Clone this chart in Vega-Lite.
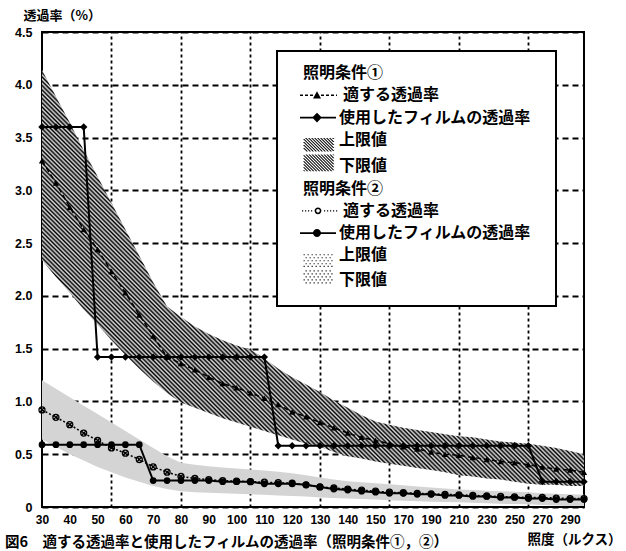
{
  "$schema": "https://vega.github.io/schema/vega-lite/v6.json",
  "width": 542,
  "height": 475,
  "autosize": "none",
  "padding": {"left": 42, "top": 32, "right": 42, "bottom": 44},
  "background": "white",
  "config": {
    "view": {"stroke": "black", "strokeWidth": 2},
    "axis": {
      "domain": false, "ticks": false, "tickSize": 0,
      "labelFont": "Liberation Sans", "labelFontSize": 12, "labelFontWeight": "bold", "labelColor": "black",
      "titleFont": "Noto Sans CJK JP", "titleFontWeight": "bold", "titleColor": "black",
      "gridColor": "black", "gridOpacity": 1, "gridWidth": 1.8, "zindex": 1
    },
    "legend": {"strokeWidth": 2}
  },
  "title": {
    "text": "図6　適する透過率と使用したフィルムの透過率（照明条件①，②）",
    "orient": "bottom", "anchor": "start", "frame": "group",
    "dx": -37, "offset": -10,
    "font": "Noto Sans CJK JP", "fontSize": 14.5, "fontWeight": "bold", "color": "black"
  },
  "datasets": {
    "d": [
      {"lux":30,"a1":3.28,"b1":3.6,"u1":4.14,"l1":2.34,"a2":0.92,"b2":0.59,"u2":1.2,"l2":0.64},
      {"lux":35,"a1":3.07,"b1":3.6,"u1":3.89,"l1":2.18,"a2":0.85,"b2":0.59,"u2":1.12,"l2":0.57},
      {"lux":40,"a1":2.84,"b1":3.6,"u1":3.64,"l1":2.03,"a2":0.78,"b2":0.59,"u2":1.04,"l2":0.5},
      {"lux":45,"a1":2.63,"b1":3.6,"u1":3.38,"l1":1.87,"a2":0.7,"b2":0.59,"u2":0.96,"l2":0.44},
      {"lux":50,"a1":2.44,"b1":1.42,"u1":3.13,"l1":1.73,"a2":0.63,"b2":0.59,"u2":0.88,"l2":0.38},
      {"lux":55,"a1":2.23,"b1":1.42,"u1":2.88,"l1":1.58,"a2":0.56,"b2":0.59,"u2":0.8,"l2":0.33},
      {"lux":60,"a1":2.03,"b1":1.42,"u1":2.63,"l1":1.44,"a2":0.51,"b2":0.59,"u2":0.72,"l2":0.28},
      {"lux":65,"a1":1.82,"b1":1.42,"u1":2.38,"l1":1.31,"a2":0.45,"b2":0.59,"u2":0.64,"l2":0.24},
      {"lux":70,"a1":1.62,"b1":1.42,"u1":2.13,"l1":1.19,"a2":0.38,"b2":0.25,"u2":0.56,"l2":0.2},
      {"lux":75,"a1":1.42,"b1":1.42,"u1":1.9,"l1":1.08,"a2":0.33,"b2":0.25,"u2":0.48,"l2":0.17},
      {"lux":80,"a1":1.36,"b1":1.42,"u1":1.8,"l1":0.99,"a2":0.29,"b2":0.25,"u2":0.42,"l2":0.15},
      {"lux":85,"a1":1.3,"b1":1.42,"u1":1.71,"l1":0.94,"a2":0.27,"b2":0.25,"u2":0.4,"l2":0.14},
      {"lux":90,"a1":1.23,"b1":1.42,"u1":1.64,"l1":0.89,"a2":0.26,"b2":0.25,"u2":0.385,"l2":0.135},
      {"lux":95,"a1":1.17,"b1":1.42,"u1":1.58,"l1":0.84,"a2":0.25,"b2":0.24,"u2":0.375,"l2":0.13},
      {"lux":100,"a1":1.13,"b1":1.42,"u1":1.53,"l1":0.8,"a2":0.245,"b2":0.24,"u2":0.365,"l2":0.125},
      {"lux":105,"a1":1.08,"b1":1.42,"u1":1.49,"l1":0.76,"a2":0.24,"b2":0.24,"u2":0.355,"l2":0.12},
      {"lux":110,"a1":1.03,"b1":1.42,"u1":1.41,"l1":0.72,"a2":0.235,"b2":0.22,"u2":0.345,"l2":0.115},
      {"lux":115,"a1":0.97,"b1":0.58,"u1":1.31,"l1":0.68,"a2":0.23,"b2":0.22,"u2":0.335,"l2":0.11},
      {"lux":120,"a1":0.9,"b1":0.58,"u1":1.23,"l1":0.64,"a2":0.225,"b2":0.22,"u2":0.32,"l2":0.105},
      {"lux":125,"a1":0.855,"b1":0.58,"u1":1.16,"l1":0.6,"a2":0.21,"b2":0.21,"u2":0.3,"l2":0.1},
      {"lux":130,"a1":0.8,"b1":0.58,"u1":1.09,"l1":0.57,"a2":0.19,"b2":0.19,"u2":0.28,"l2":0.09},
      {"lux":135,"a1":0.75,"b1":0.58,"u1":1.01,"l1":0.52,"a2":0.18,"b2":0.17,"u2":0.26,"l2":0.085},
      {"lux":140,"a1":0.7,"b1":0.58,"u1":0.94,"l1":0.48,"a2":0.17,"b2":0.16,"u2":0.245,"l2":0.08},
      {"lux":145,"a1":0.66,"b1":0.58,"u1":0.87,"l1":0.46,"a2":0.16,"b2":0.15,"u2":0.235,"l2":0.075},
      {"lux":150,"a1":0.63,"b1":0.58,"u1":0.81,"l1":0.43,"a2":0.15,"b2":0.14,"u2":0.225,"l2":0.07},
      {"lux":160,"a1":0.6,"b1":0.58,"u1":0.78,"l1":0.41,"a2":0.14,"b2":0.13,"u2":0.215,"l2":0.065},
      {"lux":170,"a1":0.57,"b1":0.58,"u1":0.75,"l1":0.39,"a2":0.135,"b2":0.13,"u2":0.205,"l2":0.06},
      {"lux":180,"a1":0.55,"b1":0.58,"u1":0.73,"l1":0.37,"a2":0.13,"b2":0.12,"u2":0.195,"l2":0.055},
      {"lux":190,"a1":0.52,"b1":0.58,"u1":0.71,"l1":0.35,"a2":0.125,"b2":0.12,"u2":0.185,"l2":0.05},
      {"lux":200,"a1":0.5,"b1":0.58,"u1":0.69,"l1":0.33,"a2":0.12,"b2":0.11,"u2":0.175,"l2":0.048},
      {"lux":210,"a1":0.49,"b1":0.58,"u1":0.67,"l1":0.3,"a2":0.115,"b2":0.11,"u2":0.165,"l2":0.045},
      {"lux":220,"a1":0.47,"b1":0.58,"u1":0.66,"l1":0.29,"a2":0.11,"b2":0.1,"u2":0.16,"l2":0.04},
      {"lux":230,"a1":0.45,"b1":0.58,"u1":0.64,"l1":0.27,"a2":0.105,"b2":0.1,"u2":0.155,"l2":0.035},
      {"lux":240,"a1":0.43,"b1":0.58,"u1":0.62,"l1":0.26,"a2":0.1,"b2":0.09,"u2":0.15,"l2":0.03},
      {"lux":250,"a1":0.42,"b1":0.58,"u1":0.61,"l1":0.24,"a2":0.095,"b2":0.09,"u2":0.145,"l2":0.028},
      {"lux":260,"a1":0.4,"b1":0.58,"u1":0.6,"l1":0.22,"a2":0.09,"b2":0.08,"u2":0.14,"l2":0.025},
      {"lux":270,"a1":0.38,"b1":0.24,"u1":0.58,"l1":0.21,"a2":0.09,"b2":0.08,"u2":0.13,"l2":0.02},
      {"lux":280,"a1":0.36,"b1":0.24,"u1":0.56,"l1":0.21,"a2":0.085,"b2":0.07,"u2":0.125,"l2":0.015},
      {"lux":290,"a1":0.35,"b1":0.24,"u1":0.53,"l1":0.2,"a2":0.08,"b2":0.07,"u2":0.12,"l2":0.01},
      {"lux":300,"a1":0.33,"b1":0.24,"u1":0.5,"l1":0.2,"a2":0.08,"b2":0.07,"u2":0.115,"l2":0.01}
    ]
  },
  "layer": [
    {
      "data": {"name": "d"},
      "mark": {"type": "area", "opacity": 1,
        "fill": {"gradient": "linear", "x1": 0, "y1": 1, "x2": 1, "y2": 0.2325, "stops": [
          {"offset":0.24,"color":"#000"},{"offset":0.2425,"color":"#ddd"},{"offset":0.245,"color":"#000"},{"offset":0.2475,"color":"#ddd"},
          {"offset":0.25,"color":"#000"},{"offset":0.2525,"color":"#ddd"},{"offset":0.255,"color":"#000"},{"offset":0.2575,"color":"#ddd"},
          {"offset":0.26,"color":"#000"},{"offset":0.2625,"color":"#ddd"},{"offset":0.265,"color":"#000"},{"offset":0.2675,"color":"#ddd"},
          {"offset":0.27,"color":"#000"},{"offset":0.2725,"color":"#ddd"},{"offset":0.275,"color":"#000"},{"offset":0.2775,"color":"#ddd"},
          {"offset":0.28,"color":"#000"},{"offset":0.2825,"color":"#ddd"},{"offset":0.285,"color":"#000"},{"offset":0.2875,"color":"#ddd"},
          {"offset":0.29,"color":"#000"},{"offset":0.2925,"color":"#ddd"},{"offset":0.295,"color":"#000"},{"offset":0.2975,"color":"#ddd"},
          {"offset":0.30,"color":"#000"},{"offset":0.3025,"color":"#ddd"},{"offset":0.305,"color":"#000"},{"offset":0.3075,"color":"#ddd"},
          {"offset":0.31,"color":"#000"},{"offset":0.3125,"color":"#ddd"},{"offset":0.315,"color":"#000"},{"offset":0.3175,"color":"#ddd"},
          {"offset":0.32,"color":"#000"},{"offset":0.3225,"color":"#ddd"},{"offset":0.325,"color":"#000"},{"offset":0.3275,"color":"#ddd"},
          {"offset":0.33,"color":"#000"},{"offset":0.3325,"color":"#ddd"},{"offset":0.335,"color":"#000"},{"offset":0.3375,"color":"#ddd"},
          {"offset":0.34,"color":"#000"},{"offset":0.3425,"color":"#ddd"},{"offset":0.345,"color":"#000"},{"offset":0.3475,"color":"#ddd"},
          {"offset":0.35,"color":"#000"},{"offset":0.3525,"color":"#ddd"},{"offset":0.355,"color":"#000"},{"offset":0.3575,"color":"#ddd"},
          {"offset":0.36,"color":"#000"},{"offset":0.3625,"color":"#ddd"},{"offset":0.365,"color":"#000"},{"offset":0.3675,"color":"#ddd"},
          {"offset":0.37,"color":"#000"},{"offset":0.3725,"color":"#ddd"},{"offset":0.375,"color":"#000"},{"offset":0.3775,"color":"#ddd"},
          {"offset":0.38,"color":"#000"},{"offset":0.3825,"color":"#ddd"},{"offset":0.385,"color":"#000"},{"offset":0.3875,"color":"#ddd"},
          {"offset":0.39,"color":"#000"},{"offset":0.3925,"color":"#ddd"},{"offset":0.395,"color":"#000"},{"offset":0.3975,"color":"#ddd"},
          {"offset":0.40,"color":"#000"},{"offset":0.4025,"color":"#ddd"},{"offset":0.405,"color":"#000"},{"offset":0.4075,"color":"#ddd"},
          {"offset":0.41,"color":"#000"},{"offset":0.4125,"color":"#ddd"},{"offset":0.415,"color":"#000"},{"offset":0.4175,"color":"#ddd"},
          {"offset":0.42,"color":"#000"},{"offset":0.4225,"color":"#ddd"},{"offset":0.425,"color":"#000"},{"offset":0.4275,"color":"#ddd"},
          {"offset":0.43,"color":"#000"},{"offset":0.4325,"color":"#ddd"},{"offset":0.435,"color":"#000"},{"offset":0.4375,"color":"#ddd"},
          {"offset":0.44,"color":"#000"},{"offset":0.4425,"color":"#ddd"},{"offset":0.445,"color":"#000"},{"offset":0.4475,"color":"#ddd"},
          {"offset":0.45,"color":"#000"},{"offset":0.4525,"color":"#ddd"},{"offset":0.455,"color":"#000"},{"offset":0.4575,"color":"#ddd"},
          {"offset":0.46,"color":"#000"},{"offset":0.4625,"color":"#ddd"},{"offset":0.465,"color":"#000"},{"offset":0.4675,"color":"#ddd"},
          {"offset":0.47,"color":"#000"},{"offset":0.4725,"color":"#ddd"},{"offset":0.475,"color":"#000"},{"offset":0.4775,"color":"#ddd"},
          {"offset":0.48,"color":"#000"},{"offset":0.4825,"color":"#ddd"},{"offset":0.485,"color":"#000"},{"offset":0.4875,"color":"#ddd"},
          {"offset":0.49,"color":"#000"},{"offset":0.4925,"color":"#ddd"},{"offset":0.495,"color":"#000"},{"offset":0.4975,"color":"#ddd"},
          {"offset":0.50,"color":"#000"},{"offset":0.5025,"color":"#ddd"},{"offset":0.505,"color":"#000"},{"offset":0.5075,"color":"#ddd"},
          {"offset":0.51,"color":"#000"},{"offset":0.5125,"color":"#ddd"},{"offset":0.515,"color":"#000"},{"offset":0.5175,"color":"#ddd"},
          {"offset":0.52,"color":"#000"},{"offset":0.5225,"color":"#ddd"},{"offset":0.525,"color":"#000"},{"offset":0.5275,"color":"#ddd"},
          {"offset":0.53,"color":"#000"},{"offset":0.5325,"color":"#ddd"},{"offset":0.535,"color":"#000"},{"offset":0.5375,"color":"#ddd"},
          {"offset":0.54,"color":"#000"},{"offset":0.5425,"color":"#ddd"},{"offset":0.545,"color":"#000"},{"offset":0.5475,"color":"#ddd"},
          {"offset":0.55,"color":"#000"},{"offset":0.5525,"color":"#ddd"},{"offset":0.555,"color":"#000"},{"offset":0.5575,"color":"#ddd"},
          {"offset":0.56,"color":"#000"},{"offset":0.5625,"color":"#ddd"},{"offset":0.565,"color":"#000"},{"offset":0.5675,"color":"#ddd"},
          {"offset":0.57,"color":"#000"},{"offset":0.5725,"color":"#ddd"},{"offset":0.575,"color":"#000"},{"offset":0.5775,"color":"#ddd"},
          {"offset":0.58,"color":"#000"},{"offset":0.5825,"color":"#ddd"},{"offset":0.585,"color":"#000"},{"offset":0.5875,"color":"#ddd"},
          {"offset":0.59,"color":"#000"},{"offset":0.5925,"color":"#ddd"},{"offset":0.595,"color":"#000"},{"offset":0.5975,"color":"#ddd"},
          {"offset":0.60,"color":"#000"},{"offset":0.6025,"color":"#ddd"},{"offset":0.605,"color":"#000"},{"offset":0.6075,"color":"#ddd"},
          {"offset":0.61,"color":"#000"},{"offset":0.6125,"color":"#ddd"},{"offset":0.615,"color":"#000"},{"offset":0.6175,"color":"#ddd"},
          {"offset":0.62,"color":"#000"},{"offset":0.6225,"color":"#ddd"},{"offset":0.625,"color":"#000"},{"offset":0.6275,"color":"#ddd"},
          {"offset":0.63,"color":"#000"},{"offset":0.6325,"color":"#ddd"},{"offset":0.635,"color":"#000"},{"offset":0.6375,"color":"#ddd"},
          {"offset":0.64,"color":"#000"},{"offset":0.6425,"color":"#ddd"},{"offset":0.645,"color":"#000"},{"offset":0.6475,"color":"#ddd"},
          {"offset":0.65,"color":"#000"},{"offset":0.6525,"color":"#ddd"},{"offset":0.655,"color":"#000"},{"offset":0.6575,"color":"#ddd"},
          {"offset":0.66,"color":"#000"},{"offset":0.6625,"color":"#ddd"},{"offset":0.665,"color":"#000"},{"offset":0.6675,"color":"#ddd"},
          {"offset":0.67,"color":"#000"},{"offset":0.6725,"color":"#ddd"},{"offset":0.675,"color":"#000"},{"offset":0.6775,"color":"#ddd"},
          {"offset":0.68,"color":"#000"}
        ]}},
      "encoding": {
        "x": {"field": "lux", "type": "ordinal", "scale": {"type": "point", "padding": 0}, "title": "照度（ルクス）",
          "axis": {"orient": "bottom", "values": [30,40,50,60,70,80,90,100,110,120,130,140,150,170,190,210,230,250,270,290],
            "labelAngle": 0, "labelPadding": 7, "labelOverlap": false, "labelFlush": false, "labelBound": false, "grid": false,
            "titleX": 485, "titleY": 32, "titleAlign": "left", "titleBaseline": "middle", "titleFontSize": 13.5}},
        "y": {"field": "u1", "type": "quantitative", "scale": {"domain": [0, 4.5], "nice": false, "zero": true}, "title": "透過率（%）",
          "axis": {"orient": "left", "values": [0,0.5,1,1.5,2,2.5,3,3.5,4,4.5],
            "labelExpr": "datum.value == 0 ? '0' : format(datum.value, '.1f')", "labelPadding": 10, "labelFontSize": 12.5,
            "grid": true, "gridDash": [6,4],
            "titleAngle": 0, "titleAlign": "left", "titleBaseline": "middle", "titleX": -19, "titleY": -17, "titleFontSize": 13}},
        "y2": {"field": "l1"}
      }
    },
    {
      "data": {"name": "d"},
      "mark": {"type": "area", "fill": "#d4d4d4", "opacity": 1},
      "encoding": {
        "x": {"field": "lux", "type": "ordinal", "title": null,
          "axis": {"orient": "top", "values": [55,80,105,130,160,210,260], "labels": false, "grid": true, "gridDash": [3,3]}},
        "y": {"field": "u2", "type": "quantitative", "title": "透過率（%）"},
        "y2": {"field": "l2"}
      }
    },
    {
      "data": {"name": "d"},
      "mark": {"type": "line", "color": "black", "strokeWidth": 1.5, "strokeDash": [5,3]},
      "encoding": {
        "x": {"field": "lux", "type": "ordinal", "axis": null},
        "y": {"field": "a1", "type": "quantitative", "title": "透過率（%）"}
      }
    },
    {
      "data": {"name": "d"},
      "mark": {"type": "line", "color": "black", "strokeWidth": 2},
      "encoding": {
        "x": {"field": "lux", "type": "ordinal", "axis": null},
        "y": {"field": "b1", "type": "quantitative", "title": "透過率（%）"}
      }
    },
    {
      "data": {"name": "d"},
      "mark": {"type": "line", "color": "black", "strokeWidth": 1.5, "strokeDash": [2,2]},
      "encoding": {
        "x": {"field": "lux", "type": "ordinal", "axis": null},
        "y": {"field": "a2", "type": "quantitative", "title": "透過率（%）"}
      }
    },
    {
      "data": {"name": "d"},
      "mark": {"type": "line", "color": "black", "strokeWidth": 2},
      "encoding": {
        "x": {"field": "lux", "type": "ordinal", "axis": null},
        "y": {"field": "b2", "type": "quantitative", "title": "透過率（%）"}
      }
    },
    {
      "data": {"name": "d"},
      "mark": {"type": "point", "shape": "triangle-up", "filled": true, "color": "black", "size": 40, "opacity": 1},
      "encoding": {
        "x": {"field": "lux", "type": "ordinal", "axis": null},
        "y": {"field": "a1", "type": "quantitative", "title": "透過率（%）"}
      }
    },
    {
      "data": {"name": "d"},
      "mark": {"type": "point", "shape": "diamond", "filled": true, "color": "black", "size": 55, "opacity": 1},
      "encoding": {
        "x": {"field": "lux", "type": "ordinal", "axis": null},
        "y": {"field": "b1", "type": "quantitative", "title": "透過率（%）"}
      }
    },
    {
      "data": {"name": "d"},
      "mark": {"type": "point", "shape": "M-1,0A1,1,0,1,1,1,0A1,1,0,1,1,-1,0ZM-0.7,-0.7L0.7,0.7M-0.7,0.7L0.7,-0.7", "filled": false, "color": "black", "strokeWidth": 1.3, "size": 36, "opacity": 1},
      "encoding": {
        "x": {"field": "lux", "type": "ordinal", "axis": null},
        "y": {"field": "a2", "type": "quantitative", "title": "透過率（%）"}
      }
    },
    {
      "data": {"name": "d"},
      "mark": {"type": "point", "shape": "circle", "filled": true, "color": "black", "size": 45, "opacity": 1},
      "encoding": {
        "x": {"field": "lux", "type": "ordinal", "axis": null},
        "y": {"field": "b2", "type": "quantitative", "title": "透過率（%）"}
      }
    },
    {
      "data": {"values": [{"k":"0"},{"k":"1"},{"k":"2"},{"k":"3"},{"k":"4"},{"k":"5"},{"k":"6"},{"k":"7"},{"k":"8"},{"k":"9"}]},
      "mark": {"type": "point", "filled": false, "color": "black", "fill": "black", "strokeWidth": 1.2, "size": 0, "opacity": 1},
      "encoding": {
        "shape": {"field": "k", "type": "nominal",
          "scale": {"domain": ["0","1","2","3","4","5","6","7","8","9"],
            "range": [
              "M0,-4.6M0,4.6M120,0",
              "M0,-4.6M0,4.6M0.5,-0.35H2V0.35H0.5ZM3,-0.35H4.5V0.35H3ZM5.5,-0.35H7V0.35H5.5ZM11,-0.35H12.5V0.35H11ZM13.5,-0.35H15V0.35H13.5ZM16,-0.35H17.5V0.35H16ZM18.5,-0.35H19V0.35H18.5ZM7,1.6L9,-2L11,1.6Z",
              "M0,-4.6M0,4.6M0.5,-0.45H18.5V0.45H0.5ZM9,-2.4L11.4,0L9,2.4L6.6,0Z",
              "M0,-4.6M0,4.6M2,4L3.8,5.8h0.7L2.7,4ZM2,2.5L5.3,5.8h0.7L2.7,2.5ZM2,1L6.8,5.8h0.7L2.7,1ZM2,-0.5L8.3,5.8h0.7L2.7,-0.5ZM3,-1L9.8,5.8h0.7L3.7,-1ZM4.5,-1L11.3,5.8h0.7L5.2,-1ZM6,-1L12.8,5.8h0.7L6.7,-1ZM7.5,-1L14.3,5.8h0.7L8.2,-1ZM9,-1L15.8,5.8h0.7L9.7,-1ZM10.5,-1L17,5.5h0.7L11.2,-1ZM12,-1L17,4h0.7L12.7,-1ZM13.5,-1L17,2.5h0.7L14.2,-1ZM15,-1L17,1h0.7L15.7,-1ZM16.5,-1L17,-0.5h0.7L17.2,-1Z",
              "M0,-4.6M0,4.6M2,2L2.5,2.5h0.7L2.7,2ZM2,0.5L4,2.5h0.7L2.7,0.5ZM2,-1L5.5,2.5h0.7L2.7,-1ZM2,-2.5L7,2.5h0.7L2.7,-2.5ZM2,-4L8.5,2.5h0.7L2.7,-4ZM2,-5.5L10,2.5h0.7L2.7,-5.5ZM3.2,-5.8L11.5,2.5h0.7L3.9,-5.8ZM4.7,-5.8L13,2.5h0.7L5.4,-5.8ZM6.2,-5.8L14.5,2.5h0.7L6.9,-5.8ZM7.7,-5.8L16,2.5h0.7L8.4,-5.8ZM9.2,-5.8L17,2h0.7L9.9,-5.8ZM10.7,-5.8L17,0.5h0.7L11.4,-5.8ZM12.2,-5.8L17,-1h0.7L12.9,-5.8ZM13.7,-5.8L17,-2.5h0.7L14.4,-5.8ZM15.2,-5.8L17,-4h0.7L15.9,-5.8ZM16.7,-5.8L17,-5.5h0.7L17.4,-5.8Z",
              "M0,-4.6M0,4.6",
              "M0,-4.6M0,4.6M1.5,-0.3h0.6v0.6h-0.6ZM3,-0.3h0.6v0.6h-0.6ZM4.5,-0.3h0.6v0.6h-0.6ZM6,-0.3h0.6v0.6h-0.6ZM12.5,-0.3h0.6v0.6h-0.6ZM14,-0.3h0.6v0.6h-0.6ZM15.5,-0.3h0.6v0.6h-0.6ZM17,-0.3h0.6v0.6h-0.6ZM18.5,-0.3h0.6v0.6h-0.6ZM7.8,0A1.7,1.7,0,1,1,11.2,0A1.7,1.7,0,1,1,7.8,0ZM8.6,0A0.9,0.9,0,1,0,10.4,0A0.9,0.9,0,1,0,8.6,0Z",
              "M0,-4.6M0,4.6M0.5,-0.45H18.5V0.45H0.5ZM7,0A2,2,0,1,1,11,0A2,2,0,1,1,7,0Z",
              "M0,-4.6M0,4.6M2.3,-0.6h0.55v0.55h-0.55ZM4.3,-0.6h0.55v0.55h-0.55ZM6.3,-0.6h0.55v0.55h-0.55ZM8.3,-0.6h0.55v0.55h-0.55ZM10.3,-0.6h0.55v0.55h-0.55ZM12.3,-0.6h0.55v0.55h-0.55ZM14.3,-0.6h0.55v0.55h-0.55ZM16.2,-0.6h0.55v0.55h-0.55ZM3.3,0.9h0.55v0.55h-0.55ZM5.3,0.9h0.55v0.55h-0.55ZM7.3,0.9h0.55v0.55h-0.55ZM9.3,0.9h0.55v0.55h-0.55ZM11.3,0.9h0.55v0.55h-0.55ZM13.3,0.9h0.55v0.55h-0.55ZM15.3,0.9h0.55v0.55h-0.55ZM2.3,2.4h0.55v0.55h-0.55ZM4.3,2.4h0.55v0.55h-0.55ZM6.3,2.4h0.55v0.55h-0.55ZM8.3,2.4h0.55v0.55h-0.55ZM10.3,2.4h0.55v0.55h-0.55ZM12.3,2.4h0.55v0.55h-0.55ZM14.3,2.4h0.55v0.55h-0.55ZM16.2,2.4h0.55v0.55h-0.55ZM3.3,3.9h0.55v0.55h-0.55ZM5.3,3.9h0.55v0.55h-0.55ZM7.3,3.9h0.55v0.55h-0.55ZM9.3,3.9h0.55v0.55h-0.55ZM11.3,3.9h0.55v0.55h-0.55ZM13.3,3.9h0.55v0.55h-0.55ZM15.3,3.9h0.55v0.55h-0.55ZM2.3,5.2h0.55v0.55h-0.55ZM4.3,5.2h0.55v0.55h-0.55ZM6.3,5.2h0.55v0.55h-0.55ZM8.3,5.2h0.55v0.55h-0.55ZM10.3,5.2h0.55v0.55h-0.55ZM12.3,5.2h0.55v0.55h-0.55ZM14.3,5.2h0.55v0.55h-0.55ZM16.2,5.2h0.55v0.55h-0.55Z",
              "M0,-4.6M0,4.6M3.3,-4.7h0.55v0.55h-0.55ZM5.3,-4.7h0.55v0.55h-0.55ZM7.3,-4.7h0.55v0.55h-0.55ZM9.3,-4.7h0.55v0.55h-0.55ZM11.3,-4.7h0.55v0.55h-0.55ZM13.3,-4.7h0.55v0.55h-0.55ZM15.3,-4.7h0.55v0.55h-0.55ZM2.3,-3.2h0.55v0.55h-0.55ZM4.3,-3.2h0.55v0.55h-0.55ZM6.3,-3.2h0.55v0.55h-0.55ZM8.3,-3.2h0.55v0.55h-0.55ZM10.3,-3.2h0.55v0.55h-0.55ZM12.3,-3.2h0.55v0.55h-0.55ZM14.3,-3.2h0.55v0.55h-0.55ZM16.2,-3.2h0.55v0.55h-0.55ZM3.3,-1.7h0.55v0.55h-0.55ZM5.3,-1.7h0.55v0.55h-0.55ZM7.3,-1.7h0.55v0.55h-0.55ZM9.3,-1.7h0.55v0.55h-0.55ZM11.3,-1.7h0.55v0.55h-0.55ZM13.3,-1.7h0.55v0.55h-0.55ZM15.3,-1.7h0.55v0.55h-0.55ZM2.3,-0.2h0.55v0.55h-0.55ZM4.3,-0.2h0.55v0.55h-0.55ZM6.3,-0.2h0.55v0.55h-0.55ZM8.3,-0.2h0.55v0.55h-0.55ZM10.3,-0.2h0.55v0.55h-0.55ZM12.3,-0.2h0.55v0.55h-0.55ZM14.3,-0.2h0.55v0.55h-0.55ZM16.2,-0.2h0.55v0.55h-0.55ZM3.3,1.3h0.55v0.55h-0.55ZM5.3,1.3h0.55v0.55h-0.55ZM7.3,1.3h0.55v0.55h-0.55ZM9.3,1.3h0.55v0.55h-0.55ZM11.3,1.3h0.55v0.55h-0.55ZM13.3,1.3h0.55v0.55h-0.55ZM15.3,1.3h0.55v0.55h-0.55Z"
            ]},
          "legend": {
            "title": null, "orient": "none", "legendX": 235, "legendY": 19, "padding": 14,
            "strokeColor": "black", "fillColor": "white",
            "symbolSize": 16, "symbolOpacity": 1, "symbolStrokeWidth": 1.2, "symbolFillColor": "black", "symbolStrokeColor": "black",
            "labelFont": "Noto Sans CJK JP", "labelFontSize": 16, "labelFontWeight": "bold", "labelColor": "black",
            "labelLimit": 500, "labelOffset": -4, "rowPadding": -1.7, "zindex": 2,
            "labelExpr": "['照明条件①','\u200b　　\u2002適する透過率','\u200b　　\u2005使用したフィルムの透過率','\u200b　　\u2005上限値','\u200b　　\u2005下限値','照明条件②','\u200b　　\u2002適する透過率','\u200b　　\u2005使用したフィルムの透過率','\u200b　　\u2005上限値','\u200b　　\u2005下限値'][toNumber(datum.value)]"
          }
        }
      }
    }
  ],
  "resolve": {"axis": {"x": "independent"}}
}
